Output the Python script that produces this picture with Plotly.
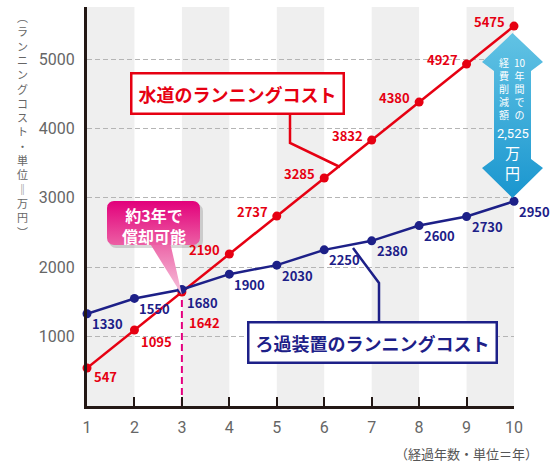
import math
import plotly.graph_objects as go

# ---------------- data ----------------
years = [1, 2, 3, 4, 5, 6, 7, 8, 9, 10]
water_cost = [547, 1095, 1642, 2190, 2737, 3285, 3832, 4380, 4927, 5475]
filter_cost = [1330, 1550, 1680, 1900, 2030, 2250, 2380, 2600, 2730, 2950]
water_labels = ["547", "1095", "1642", "2190", "2737", "3285", "3832", "4380", "4927", "5475"]
filter_labels = ["1330", "1550", "1680", "1900", "2030", "2250", "2380", "2600", "2730", "2950"]
y_ticks = [1000, 2000, 3000, 4000, 5000]
y_tick_text = ["1000", "2000", "3000", "4000", "5000"]
x_tick_text = ["1", "2", "3", "4", "5", "6", "7", "8", "9", "10"]

water_name = "水道のランニングコスト"
filter_name = "ろ過装置のランニングコスト"
callout_lines = ["約3年で", "償却可能"]
y_title_chars = ["︵", "ラ", "ン", "ニ", "ン", "グ", "コ", "ス", "ト", "・", "単", "位", "‖", "万", "円", "︶"]
x_title = "（経過年数・単位＝年）"
saving_col_right = ["10", "年", "間", "で", "の"]
saving_col_left = ["経", "費", "削", "減", "額"]
saving_amount = "2,525"
saving_unit = ["万", "円"]

# ---------------- style ----------------
W, H = 558, 464
RED = "#e60012"
BLUE = "#1d2088"
PINK = "#e4007f"
AXIS = "#231815"
GRAY_TXT = "#666666"
JP = "Noto Sans CJK JP"


def px(x):
    return x / W


def py(y):
    return 1 - y / H


def rrect(x0, y0, x1, y1, r, n=8):
    pts = []
    corners = [(x1 - r, y0 + r, -90), (x1 - r, y1 - r, 0), (x0 + r, y1 - r, 90), (x0 + r, y0 + r, 180)]
    for cx, cy, a0 in corners:
        for k in range(n + 1):
            a = math.radians(a0 + 90 * k / n)
            pts.append((cx + r * math.cos(a), cy + r * math.sin(a)))
    pts.append(pts[0])
    return [p[0] for p in pts], [p[1] for p in pts]


fig = go.Figure()

# data lines
fig.add_trace(go.Scatter(
    x=years, y=water_cost, mode="lines+markers",
    line=dict(color=RED, width=2.5), marker=dict(color=RED, size=9),
    cliponaxis=False, hoverinfo="skip", showlegend=False))
fig.add_trace(go.Scatter(
    x=years, y=filter_cost, mode="lines+markers",
    line=dict(color=BLUE, width=2.5), marker=dict(color=BLUE, size=9),
    cliponaxis=False, hoverinfo="skip", showlegend=False))

# decorative elements on a pixel-space overlay subplot
pix = dict(xaxis="x2", yaxis="y2", hoverinfo="skip", showlegend=False)

# leader lines
fig.add_trace(go.Scatter(x=[290, 290, 340], y=[113, 143, 167], mode="lines",
                         line=dict(color=RED, width=2.5), **pix))
fig.add_trace(go.Scatter(x=[379, 379, 353], y=[323, 283, 248], mode="lines",
                         line=dict(color=BLUE, width=2.5), **pix))

# callout shadow, box and pointer
sx, sy = rrect(109, 204, 203, 248, 7)
fig.add_trace(go.Scatter(x=sx, y=sy, mode="lines", fill="toself", line=dict(width=0),
                         fillcolor="rgba(0,0,0,0.15)", **pix))
fig.add_trace(go.Scatter(x=[149, 170, 182, 149], y=[242, 242, 295, 242], mode="lines", fill="toself",
                         line=dict(width=0),
                         fillgradient=dict(type="vertical", colorscale=[[0, "#ec62a6"], [1, "#f7c4dd"]],
                                           start=242, stop=295), **pix))
bx, by = rrect(107, 201, 200, 245, 7)
fig.add_trace(go.Scatter(x=bx, y=by, mode="lines", fill="toself", line=dict(width=0),
                         fillgradient=dict(type="vertical", colorscale=[[0, "#e2007b"], [1, "#ec5fa4"]],
                                           start=201, stop=245), **pix))

# double arrow
ax = [512.5, 543, 531, 531, 543, 512.5, 482, 494, 494, 482, 512.5]
ay = [33, 62, 71, 159, 168, 198, 168, 159, 71, 62, 33]
fig.add_trace(go.Scatter(x=ax, y=ay, mode="lines", fill="toself", line=dict(width=0),
                         fillgradient=dict(type="vertical", colorscale=[[0, "#62c3e4"], [1, "#1a96cf"]],
                                           start=33, stop=198), **pix))

shapes = []
for k in [1, 3, 5, 7, 9]:
    shapes.append(dict(type="rect", xref="x", yref="y domain", x0=k, x1=k + 1, y0=0, y1=1,
                       fillcolor="#efefef", line=dict(width=0), layer="below"))
shapes.append(dict(type="line", xref="x", yref="y", x0=years[2], x1=years[2], y0=0,
                   y1=min(water_cost[2], filter_cost[2]) - 80,
                   line=dict(color=PINK, width=2, dash="7px,4px"), layer="below"))

ann = []
# value labels
for i, (xv, yv, t) in enumerate(zip(years, water_cost, water_labels)):
    if i < 3:
        ys = [-8, -11, -30][i]
        ann.append(dict(x=xv, y=yv, xref="x", yref="y", text=f"<b>{t}</b>", showarrow=False,
                        xanchor="left", yanchor="middle", xshift=5, yshift=ys,
                        font=dict(family=JP, size=13, color=RED)))
    else:
        ann.append(dict(x=xv, y=yv, xref="x", yref="y", text=f"<b>{t}</b>", showarrow=False,
                        xanchor="right", yanchor="middle", xshift=-7, yshift=5,
                        font=dict(family=JP, size=13, color=RED)))
for i, (xv, yv, t) in enumerate(zip(years, filter_cost, filter_labels)):
    ann.append(dict(x=xv, y=yv, xref="x", yref="y", text=f"<b>{t}</b>", showarrow=False,
                    xanchor="left", yanchor="middle", xshift=3, yshift=-13 if i == 2 else -10,
                    font=dict(family=JP, size=13, color=BLUE)))

# series name boxes
ann.append(dict(x=px(237), y=py(93.5), xref="paper", yref="paper", text=f"<b>{water_name}</b>",
                showarrow=False, xanchor="center", yanchor="middle",
                font=dict(family=JP, size=18, color=RED), bgcolor="white",
                bordercolor=RED, borderwidth=2.5, borderpad=6))
ann.append(dict(x=px(372), y=py(342), xref="paper", yref="paper", text=f"<b>{filter_name}</b>",
                showarrow=False, xanchor="center", yanchor="middle",
                font=dict(family=JP, size=18, color=BLUE), bgcolor="white",
                bordercolor=BLUE, borderwidth=2.5, borderpad=6))

# callout text
ann.append(dict(x=px(153.5), y=py(225), xref="paper", yref="paper",
                text="<br>".join(f"<b>{t}</b>" for t in callout_lines),
                showarrow=False, xanchor="center", yanchor="middle",
                font=dict(family=JP, size=16, color="white")))

# saving arrow text
ann.append(dict(x=px(520), y=py(88.5), xref="paper", yref="paper", text="<br>".join(saving_col_right),
                showarrow=False, xanchor="center", yanchor="middle",
                font=dict(family=JP, size=10, color="white")))
ann.append(dict(x=px(504), y=py(88.5), xref="paper", yref="paper", text="<br>".join(saving_col_left),
                showarrow=False, xanchor="center", yanchor="middle",
                font=dict(family=JP, size=10, color="white")))
ann.append(dict(x=px(512.5), y=py(133), xref="paper", yref="paper", text=saving_amount, showarrow=False,
                xanchor="center", yanchor="middle",
                font=dict(family="Roboto", size=13, color="white")))
ann.append(dict(x=px(512.5), y=py(162), xref="paper", yref="paper", text="<br>".join(saving_unit),
                showarrow=False, xanchor="center", yanchor="middle",
                font=dict(family=JP, size=15, color="white")))

# axis titles
ann.append(dict(x=px(22), y=py(125), xref="paper", yref="paper", text="<br>".join(y_title_chars),
                showarrow=False, xanchor="center", yanchor="middle",
                font=dict(family=JP, size=11, color=GRAY_TXT)))
ann.append(dict(x=px(466), y=py(453), xref="paper", yref="paper", text=x_title, showarrow=False,
                xanchor="center", yanchor="middle", font=dict(family=JP, size=13, color="#555555")))

fig.update_layout(
    width=W, height=H,
    margin=dict(l=0, r=0, t=0, b=0, autoexpand=False),
    paper_bgcolor="white", plot_bgcolor="rgba(0,0,0,0)",
    showlegend=False,
    font=dict(family=JP),
    xaxis=dict(domain=[87 / W, 514 / W], range=[1, 10], tickvals=years, ticktext=x_tick_text,
               showline=True, linecolor=AXIS, linewidth=3, ticks="inside", ticklen=9,
               tickwidth=2, tickcolor=AXIS, showgrid=False, zeroline=False,
               tickfont=dict(family="Roboto", size=16, color=GRAY_TXT), ticklabelstandoff=5,
               anchor="y", fixedrange=True),
    yaxis=dict(domain=[1 - 406 / H, 1 - 7 / H], range=[0, 5750], tickvals=y_ticks, ticktext=y_tick_text,
               showline=True, linecolor=AXIS, linewidth=3, ticks="outside", ticklen=6,
               tickcolor="rgba(0,0,0,0)", showgrid=True, gridcolor="#b5b5b5", gridwidth=1,
               griddash="5px,3px", zeroline=False,
               tickfont=dict(family="Roboto", size=16, color=GRAY_TXT),
               anchor="x", fixedrange=True),
    xaxis2=dict(domain=[0, 1], range=[0, W], visible=False, anchor="y2", fixedrange=True),
    yaxis2=dict(domain=[0, 1], range=[H, 0], visible=False, anchor="x2", fixedrange=True),
    shapes=shapes,
    annotations=ann,
)

fig.write_html("out.html", config={"displayModeBar": False},
               post_script="document.body.style.margin='0';document.body.style.overflow='hidden';")
